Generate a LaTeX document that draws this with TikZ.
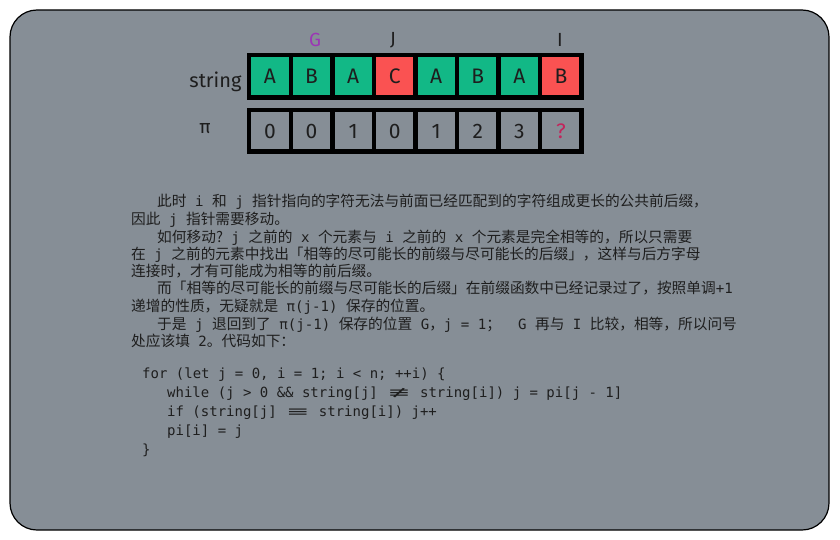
\documentclass[tikz,border=0pt]{standalone}
\usepackage{fontspec}
\usepackage{graphicx}
\setmainfont{DejaVu Sans Mono}
\newfontfamily\cjk{Noto Sans CJK SC}
\newfontfamily\mono{DejaVu Sans Mono}
\newfontfamily\symf{DejaVu Sans}
\newfontfamily\hand{Fira Sans}
\newcommand\m[1]{{\mono\fontsize{14.1}{15}\selectfont #1}}
\definecolor{bg}{HTML}{868E96}
\definecolor{ink}{HTML}{1E1E1E}
\definecolor{cgreen}{HTML}{12B886}
\definecolor{cred}{HTML}{FA5252}
\definecolor{cpurple}{HTML}{9C36B5}
\definecolor{cpink}{HTML}{C2255C}
\tikzset{
  cellbox/.style={draw=black, line width=4.5pt, minimum width=41.56pt, minimum height=42.5pt, inner sep=0pt, text=ink, font=\hand\fontsize{21}{24}\selectfont},
  pibox/.style={cellbox, minimum height=41.5pt, fill=bg},
  ptr/.style={font=\hand\fontsize{19}{21}\selectfont, text=ink},
  para/.style={anchor=base west, inner sep=0pt, text=ink, font=\cjk\fontsize{14.7}{17}\selectfont},
  code/.style={anchor=base west, inner sep=0pt, text=ink, font=\mono\fontsize{14}{16}\selectfont},
}
\begin{document}
\begin{tikzpicture}[x=1pt,y=-1pt]
\useasboundingbox (0,0) rectangle (840,540);
\fill[white] (0,0) rectangle (840,540);
\draw[fill=bg, draw=black, line width=1.2pt, rounded corners=27pt] (10,10) rectangle (829,530);

% string row
\foreach \i/\t/\c in {0/A/cgreen,1/B/cgreen,2/A/cgreen,3/C/cred,4/A/cgreen,5/B/cgreen,6/A/cgreen,7/B/cred}{
  \node[cellbox, fill=\c] (s\i) at (270.0+41.56*\i, 76.5) {\t};
}
% pi row
\foreach \i/\t in {0/0,1/0,2/1,3/0,4/1,5/2,6/3}{
  \node[pibox] (p\i) at (270.0+41.56*\i, 131) {\t};
}
\node[pibox, text=cpink] (p7) at (270.0+41.56*7, 131) {?};

\node[font=\hand\fontsize{20}{22}\selectfont, text=ink, anchor=east] (lstr) at (245,82) {string};
\node[font=\hand\fontsize{19}{22}\selectfont, text=ink] (lpi) at (205,129) {π};

\node[ptr, text=cpurple] (G) at (315,40) {G};
\node[ptr] (J) at (393,40) {J};
\node[ptr] (I) at (560,40) {I};

% paragraph
\node[para] (t1) at (157,206) {此时\m{~i~}和\m{~j~}指针指向的字符无法与前面已经匹配到的字符组成更长的公共前后缀，};
\node[para] (t2) at (131,224) {因此\m{~j~}指针需要移动。};
\node[para] (t3) at (157,242) {如何移动?\m{~j~}之前的\m{~x~}个元素与\m{~i~}之前的\m{~x~}个元素是完全相等的，所以只需要};
\node[para] (t4) at (131,259) {在\m{~j~}之前的元素中找出「相等的尽可能长的前缀与尽可能长的后缀」，这样与后方字母};
\node[para] (t5) at (131,276) {连接时，才有可能成为相等的前后缀。};
\node[para] (t6) at (157,293) {而「相等的尽可能长的前缀与尽可能长的后缀」在前缀函数中已经记录过了，按照单调\m{+1}};
\node[para] (t7) at (131,311) {递增的性质，无疑就是\m{~π(j-1)~}保存的位置。};
\node[para] (t8) at (157,329) {于是\m{~j~}退回到了\m{~π(j-1)~}保存的位置\m{~G}，\m{j~=~1}；\m{~~G~}再与\m{~I~}比较，相等，所以问号};
\node[para] (t9) at (131,346) {处应该填\m{~2}。代码如下：};

% code
\node[code] (c1) at (142,378) {for (let j = 0, i = 1; i < n; ++i) \{};
\node[code] (c2) at (167,397) {while (j > 0 \&\& string[j] \makebox[25.3pt]{\symf\scalebox{2.0}[1]{≢}} string[i]) j = pi[j - 1]};
\node[code] (c3) at (167,416) {if (string[j] \makebox[25.3pt]{\symf\scalebox{2.0}[1]{≡}} string[i]) j++};
\node[code] (c4) at (167,435) {pi[i] = j};
\node[code] (c5) at (142,454) {\}};
\end{tikzpicture}
\end{document}
